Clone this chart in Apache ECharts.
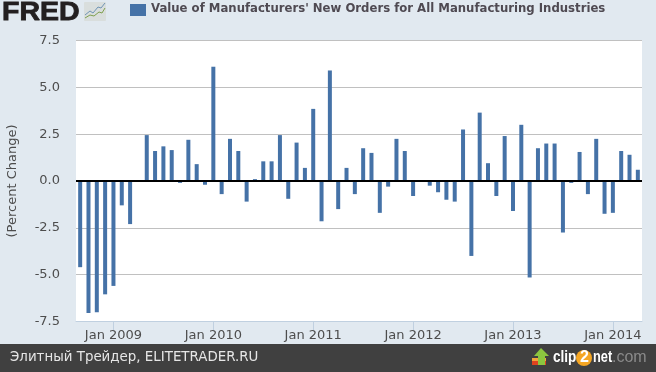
<!DOCTYPE html>
<html><head><meta charset="utf-8">
<style>html,body{margin:0;padding:0;background:#e1e9f0}#c{width:656px;height:372px}</style>
<script src="https://cdn.jsdelivr.net/npm/echarts@6/dist/echarts.min.js"></script>
</head><body><div id="c"></div>
<script>
const categories = [
 'Sep 2008','Oct 2008','Nov 2008','Dec 2008',
 'Jan 2009','Feb 2009','Mar 2009','Apr 2009','May 2009','Jun 2009','Jul 2009','Aug 2009','Sep 2009','Oct 2009','Nov 2009','Dec 2009',
 'Jan 2010','Feb 2010','Mar 2010','Apr 2010','May 2010','Jun 2010','Jul 2010','Aug 2010','Sep 2010','Oct 2010','Nov 2010','Dec 2010',
 'Jan 2011','Feb 2011','Mar 2011','Apr 2011','May 2011','Jun 2011','Jul 2011','Aug 2011','Sep 2011','Oct 2011','Nov 2011','Dec 2011',
 'Jan 2012','Feb 2012','Mar 2012','Apr 2012','May 2012','Jun 2012','Jul 2012','Aug 2012','Sep 2012','Oct 2012','Nov 2012','Dec 2012',
 'Jan 2013','Feb 2013','Mar 2013','Apr 2013','May 2013','Jun 2013','Jul 2013','Aug 2013','Sep 2013','Oct 2013','Nov 2013','Dec 2013',
 'Jan 2014','Feb 2014','Mar 2014','Apr 2014'];
const newOrdersChange = [
 -4.6,-7.05,-7.0,-6.05,
 -5.6,-1.3,-2.3,0,2.45,1.6,1.85,1.65,-0.1,2.2,0.9,-0.2,
 6.1,-0.7,2.25,1.6,-1.1,0.1,1.05,1.05,2.45,-0.95,2.05,0.7,
 3.85,-2.15,5.9,-1.5,0.7,-0.7,1.75,1.5,-1.7,-0.3,2.25,1.6,
 -0.8,0,-0.25,-0.6,-1.0,-1.1,2.75,-4.0,3.65,0.95,-0.8,2.4,
 -1.6,3.0,-5.15,1.75,2.0,2.0,-2.75,-0.1,1.55,-0.7,2.25,-1.75,
 -1.7,1.6,1.4,0.6];
const seriesName = "Value of Manufacturers' New Orders for All Manufacturing Industries";
const yAxisTitle = '(Percent Change)';
const footerText = 'Элитный Трейдер, ELITETRADER.RU';

const isJan = (i, v) => v.startsWith('Jan');
const chart = echarts.init(document.getElementById('c'), null, {renderer:'canvas'});
chart.setOption({
  animation:false,
  backgroundColor:'#e1e9f0',
  textStyle:{fontFamily:'DejaVu Sans'},
  grid:{left:76,right:14,top:40.5,bottom:50.5,backgroundColor:'#fff',show:true,borderWidth:0,outerBoundsMode:'none'},
  legend:{show:false},
  xAxis:{type:'category',data:categories,
    axisLine:{show:true,onZero:false,lineStyle:{color:'#c0d0e0',width:1}},
    axisTick:{show:true,length:10,alignWithLabel:true,interval:isJan,lineStyle:{color:'#c0d0e0'}},
    axisLabel:{interval:isJan,margin:8,color:'#4d4d4d',fontSize:13,fontFamily:'DejaVu Sans',
      formatter:v=>v}},
  yAxis:{type:'value',min:-7.5,max:7.5,interval:2.5,name:yAxisTitle,nameLocation:'middle',nameGap:57,
    nameTextStyle:{color:'#4d4d4d',fontSize:13,fontFamily:'DejaVu Sans'},
    axisLine:{show:false},axisTick:{show:false},
    axisLabel:{margin:16,color:'#4d4d4d',fontSize:13,fontFamily:'DejaVu Sans',formatter:v=>v.toFixed(1)},
    splitLine:{show:true,lineStyle:{color:'#c0c0c0',width:1}}},
  series:[{type:'bar',name:seriesName,data:newOrdersChange,barWidth:4,
    itemStyle:{color:'#4572a7'},
    markLine:{silent:true,symbol:'none',label:{show:false},animation:false,
      lineStyle:{color:'#000',width:2,type:'solid'},data:[{yAxis:0}]}}],
  graphic:[
    {type:'rect',shape:{x:130,y:4,width:16,height:12},style:{fill:'#4572a7'}},
    {type:'text',x:151,y:3,style:{text:seriesName,fill:'#4f4a52',font:'bold 11.7px "DejaVu Sans"'}},
    {type:'text',x:2,y:1,scaleX:1.14,style:{text:'FRED',fill:'#231f20',font:'900 25px "Liberation Sans"',stroke:'#231f20',lineWidth:.8}},
    {type:'rect',shape:{x:84,y:2,width:22,height:19,r:1},style:{fill:'#d9dedd'}},
    {type:'polyline',shape:{points:[[85,15],[90,11],[93,13],[98,7],[101,8],[105,3]]},style:{stroke:'#6f94b5',lineWidth:1,fill:'none'}},
    {type:'polyline',shape:{points:[[85,18],[90,15],[94,16],[99,12],[102,13],[105,8]]},style:{stroke:'#7fa04f',lineWidth:1,fill:'none'}},
    {type:'rect',z:10,shape:{x:0,y:344,width:656,height:28},style:{fill:'#404040'}},
    {type:'text',z:11,x:10,y:351,style:{text:footerText,fill:'#e6e6e6',font:'13.4px "DejaVu Sans"'}},
    {type:'rect',z:11,shape:{x:532,y:361,width:14,height:4},style:{fill:'#e0431f'}},
    {type:'rect',z:11,shape:{x:532,y:358,width:14,height:3},style:{fill:'#f2a53a'}},
    {type:'polygon',z:11,shape:{points:[[541,348],[549,356],[545,356],[545,365],[538,365],[538,356],[534,356]]},style:{fill:'#8cc63f'}},
    {type:'text',z:11,x:553,y:350,scaleX:.85,style:{text:'clip',fill:'#fff',font:'bold 16px "Liberation Sans"'}},
    {type:'circle',z:11,shape:{cx:584,cy:358,r:8},style:{fill:'#f5a623'}},
    {type:'text',z:11,x:580,y:350,style:{text:'2',fill:'#fff',font:'bold 16px "Liberation Sans"'}},
    {type:'text',z:11,x:593,y:350,scaleX:.8,style:{text:'net',fill:'#fff',font:'bold 16px "Liberation Sans"'}},
    {type:'text',z:11,x:612,y:350,style:{text:'.com',fill:'#8a8a8a',font:'16px "Liberation Sans"'}}
  ]
});
</script></body></html>
